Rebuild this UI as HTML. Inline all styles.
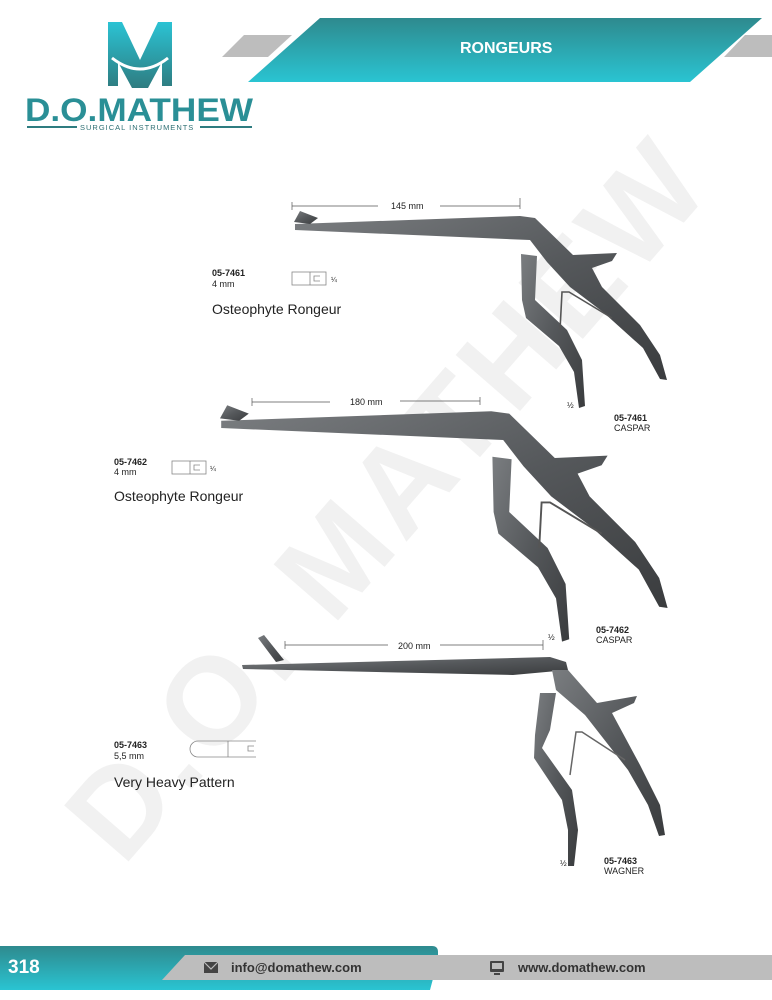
<!DOCTYPE html>
<html><head><meta charset="utf-8"><style>
html,body{margin:0;padding:0;background:#fff}
body{width:772px;height:1000px;position:relative;overflow:hidden;font-family:"Liberation Sans",Arial,sans-serif}
.t{position:absolute;color:#222;white-space:nowrap}
.b{font-weight:bold;font-size:9px}
.s{font-size:9px}
.big{font-size:14px}
</style></head><body>
<svg width="772" height="1000" style="position:absolute;left:0;top:0">
<defs>
<linearGradient id="tg" x1="0" y1="0" x2="0" y2="1"><stop offset="0" stop-color="#2e8a8e"/><stop offset="1" stop-color="#2ac4d2"/></linearGradient>
<linearGradient id="mg" x1="0" y1="0" x2="0" y2="1"><stop offset="0" stop-color="#2bc3d4"/><stop offset="1" stop-color="#2e7c80"/></linearGradient>
<linearGradient id="metal" x1="0" y1="0" x2="1" y2="1"><stop offset="0" stop-color="#7a7d80"/><stop offset="0.5" stop-color="#55585b"/><stop offset="1" stop-color="#3a3c3e"/></linearGradient>
</defs>
<text x="0" y="0" transform="translate(395,505) rotate(-49)" text-anchor="middle" dominant-baseline="middle" font-family="Liberation Sans" font-weight="bold" font-size="124" fill="#f1f1f1" letter-spacing="6">D.O. MATHEW</text>
<polygon points="244,35 292,35 268,57 222,57" fill="#bdbdbd"/>
<polygon points="745,35 772,35 772,57 724,57" fill="#bdbdbd"/>
<polygon points="320,18 762,18 690,82 248,82" fill="url(#tg)"/>
<path d="M108,22 L122,22 L140,60 L158,22 L172,22 L172,86 L162,86 L162,62 L148,88 L132,88 L118,62 L118,86 L108,86 Z" fill="url(#mg)"/>
<path d="M112,58 Q140,80 168,58" stroke="#fff" stroke-width="3" fill="none"/>
<text x="25" y="121" font-family="Liberation Sans" font-weight="bold" font-size="32" fill="#2a8f96" textLength="228" lengthAdjust="spacingAndGlyphs">D.O.MATHEW</text>
<rect x="27" y="126" width="50" height="2" fill="#2e7c80"/>
<rect x="200" y="126" width="52" height="2" fill="#2e7c80"/>
<text x="80" y="130" font-family="Liberation Sans" font-size="7.5" fill="#2e6f73" letter-spacing="1">SURGICAL INSTRUMENTS</text>
<path d="M0,946 L432,946 Q438,946 438,952 L438,960 L430,990 L0,990 Z" fill="url(#tg)"/>
<polygon points="185,955 772,955 772,980 162,980" fill="#bdbdbd"/>
<rect x="204" y="962" width="14" height="11" fill="#444"/>
<path d="M204,962 L211,969 L218,962" stroke="#bdbdbd" stroke-width="1.2" fill="none"/>
<rect x="490" y="961" width="14" height="11" rx="1" fill="#444"/>
<rect x="492" y="963" width="10" height="6" fill="#bdbdbd"/>
<rect x="494" y="973" width="6" height="2" fill="#444"/>
<g stroke="#555" stroke-width="0.7">
<line x1="292" y1="206" x2="378" y2="206"/><line x1="440" y1="206" x2="520" y2="206"/><line x1="292" y1="202" x2="292" y2="210"/><line x1="520" y1="198" x2="520" y2="209"/>
<line x1="252" y1="402" x2="330" y2="402"/><line x1="400" y1="401" x2="480" y2="401"/><line x1="252" y1="398" x2="252" y2="406"/><line x1="480" y1="397" x2="480" y2="405"/>
<line x1="285" y1="645" x2="388" y2="645"/><line x1="440" y1="645" x2="543" y2="645"/><line x1="285" y1="641" x2="285" y2="649"/><line x1="543" y1="640" x2="543" y2="650"/>
</g>
<g stroke="#888" stroke-width="0.8" fill="none">
<rect x="292" y="272" width="34" height="13"/><line x1="310" y1="272" x2="310" y2="285"/><path d="M320,276 h-6 v5 h6"/>
<rect x="172" y="461" width="34" height="13"/><line x1="190" y1="461" x2="190" y2="474"/><path d="M200,465 h-6 v5 h6"/>
<path d="M256,741 H198 a8,8 0 0 0 0,16 H256"/><line x1="228" y1="741" x2="228" y2="757"/><path d="M254,746 h-6 v5 h6"/>
</g>
<g id="i1" fill="url(#metal)">
<polygon points="295,224 520,216 535,218 573,255 617,253 612,261 592,268 602,287 640,325 660,355 667,380 660,379 643,348 603,312 570,287 547,262 530,240 295,230"/>
<polygon points="294,222 300,211 318,218 310,224"/>
<polygon points="521,254 537,256 535,300 567,330 582,360 585,406 579,408 574,372 559,346 526,318 522,300"/>
<path d="M560,330 L562,292 L569,292 L612,318" stroke="#555" stroke-width="1.6" fill="none"/>
</g>
<use href="#i1" transform="translate(-132.8,152) scale(1.2)"/>
<g fill="url(#metal)">
<polygon points="242,665 550,657 566,662 568,670 513,675 243,669"/>
<polygon points="258,638 264,635 284,660 276,662"/>
<polygon points="552,670 568,670 597,703 637,696 634,703 612,713 640,765 660,805 665,835 659,836 648,805 628,770 585,715 556,690"/>
<polygon points="540,693 556,693 550,730 542,748 572,790 578,830 574,866 568,866 568,830 562,800 534,758 535,735"/>
<path d="M570,775 L576,732 L582,732 L625,760" stroke="#666" stroke-width="1.5" fill="none"/>
</g>
</svg>
<div class="t" style="left:460px;top:40px;color:#fff;font-weight:bold;font-size:16px">RONGEURS</div>
<div class="t" style="left:8px;top:957px;color:#fff;font-weight:bold;font-size:19px">318</div>
<div class="t" style="left:231px;top:960px;color:#333;font-weight:bold;font-size:13px">info@domathew.com</div>
<div class="t" style="left:518px;top:960px;color:#333;font-weight:bold;font-size:13px">www.domathew.com</div>
<div class="t s" style="left:391px;top:201px">145 mm</div>
<div class="t s" style="left:350px;top:397px">180 mm</div>
<div class="t s" style="left:398px;top:641px">200 mm</div>
<div class="t b" style="left:212px;top:268px">05-7461</div>
<div class="t s" style="left:212px;top:279px">4 mm</div>
<div class="t s" style="left:331px;top:277px;font-size:7px">¼</div>
<div class="t big" style="left:212px;top:301px">Osteophyte Rongeur</div>
<div class="t b" style="left:114px;top:457px">05-7462</div>
<div class="t s" style="left:114px;top:467px">4 mm</div>
<div class="t s" style="left:210px;top:466px;font-size:7px">¼</div>
<div class="t big" style="left:114px;top:488px">Osteophyte Rongeur</div>
<div class="t b" style="left:114px;top:740px">05-7463</div>
<div class="t s" style="left:114px;top:751px">5,5 mm</div>
<div class="t big" style="left:114px;top:774px">Very Heavy Pattern</div>
<div class="t s" style="left:567px;top:401px;font-size:8px">½</div>
<div class="t s" style="left:548px;top:633px;font-size:8px">½</div>
<div class="t s" style="left:560px;top:859px;font-size:8px">½</div>
<div class="t b" style="left:614px;top:413px">05-7461</div>
<div class="t s" style="left:614px;top:423px">CASPAR</div>
<div class="t b" style="left:596px;top:625px">05-7462</div>
<div class="t s" style="left:596px;top:635px">CASPAR</div>
<div class="t b" style="left:604px;top:856px">05-7463</div>
<div class="t s" style="left:604px;top:866px">WAGNER</div>
</body></html>
